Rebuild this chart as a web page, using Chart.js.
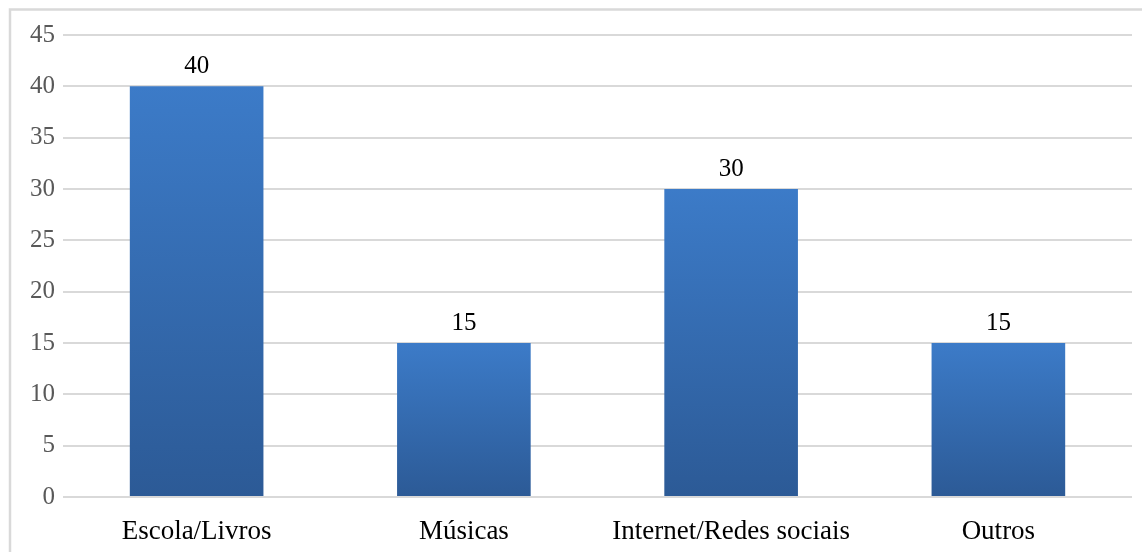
<!DOCTYPE html>
<html>
<head>
<meta charset="utf-8">
<script src="https://cdn.jsdelivr.net/npm/chart.js@4/dist/chart.umd.min.js"></script>
<style>
  html, body { margin: 0; padding: 0; background: #fff; }
  #wrap { position: relative; width: 1142px; height: 552px; }
</style>
</head>
<body>
<div id="wrap"><canvas id="barChart"></canvas></div>
<script>
const categories = ['Escola/Livros', 'Músicas', 'Internet/Redes sociais', 'Outros'];
const values = [40, 15, 30, 15];
const yTicks = [0, 5, 10, 15, 20, 25, 30, 35, 40, 45];

// degradê de cada barra (mais claro em cima)
function barGradient(ctx) {
  const chart = ctx.chart;
  if (!chart.chartArea || ctx.type !== 'data') return '#3470b8';
  const y = chart.scales.y;
  const top = y.getPixelForValue(ctx.parsed.y);
  const base = y.getPixelForValue(0);
  if (!isFinite(top) || top === base) return '#3470b8';
  const g = chart.ctx.createLinearGradient(0, top, 0, base);
  g.addColorStop(0, '#3c7bc8');
  g.addColorStop(1, '#2c5a96');
  return g;
}

const frame = {
  id: 'frame',
  beforeDraw(chart) {
    const c = chart.ctx;
    c.save();
    c.strokeStyle = '#d9d9d9';
    c.lineWidth = 2.5;
    c.beginPath();
    c.moveTo(10, chart.height);
    c.lineTo(10, 9.5);
    c.lineTo(chart.width, 9.5);
    c.stroke();
    c.restore();
  }
};

const valueLabels = {
  id: 'valueLabels',
  afterDatasetsDraw(chart) {
    const c = chart.ctx;
    const meta = chart.getDatasetMeta(0);
    c.save();
    c.font = '25px "Liberation Serif", "Times New Roman", serif';
    c.fillStyle = '#000';
    c.textAlign = 'center';
    c.textBaseline = 'alphabetic';
    meta.data.forEach((bar, i) => {
      c.fillText(String(values[i]), bar.x, bar.y - 13);
    });
    c.restore();
  }
};

new Chart(document.getElementById('barChart').getContext('2d'), {
  type: 'bar',
  data: {
    labels: categories,
    datasets: [{
      data: values,
      backgroundColor: barGradient,
      borderWidth: 0,
      categoryPercentage: 1,
      barPercentage: 0.5
    }]
  },
  options: {
    responsive: true,
    maintainAspectRatio: false,
    animation: false,
    layout: { padding: { left: 0, top: 35, right: 10, bottom: 0 } },
    plugins: { legend: { display: false }, tooltip: { enabled: false } },
    scales: {
      x: {
        grid: { display: false },
        border: { display: false },
        ticks: {
          color: '#000',
          padding: 11,
          maxRotation: 0,
          font: { family: '"Liberation Serif", "Times New Roman", serif', size: 27 }
        },
        afterFit(scale) { scale.height = 55; }
      },
      y: {
        min: 0,
        max: 45,
        afterBuildTicks(scale) { scale.ticks = yTicks.map(v => ({ value: v })); },
        grid: { color: '#d9d9d9', lineWidth: 2, drawTicks: false },
        border: { display: false },
        ticks: {
          color: '#595959',
          padding: 8,
          font: { family: '"Liberation Serif", "Times New Roman", serif', size: 25 }
        },
        afterFit(scale) { scale.width = 63; }
      }
    }
  },
  plugins: [frame, valueLabels]
});
</script>
</body>
</html>
